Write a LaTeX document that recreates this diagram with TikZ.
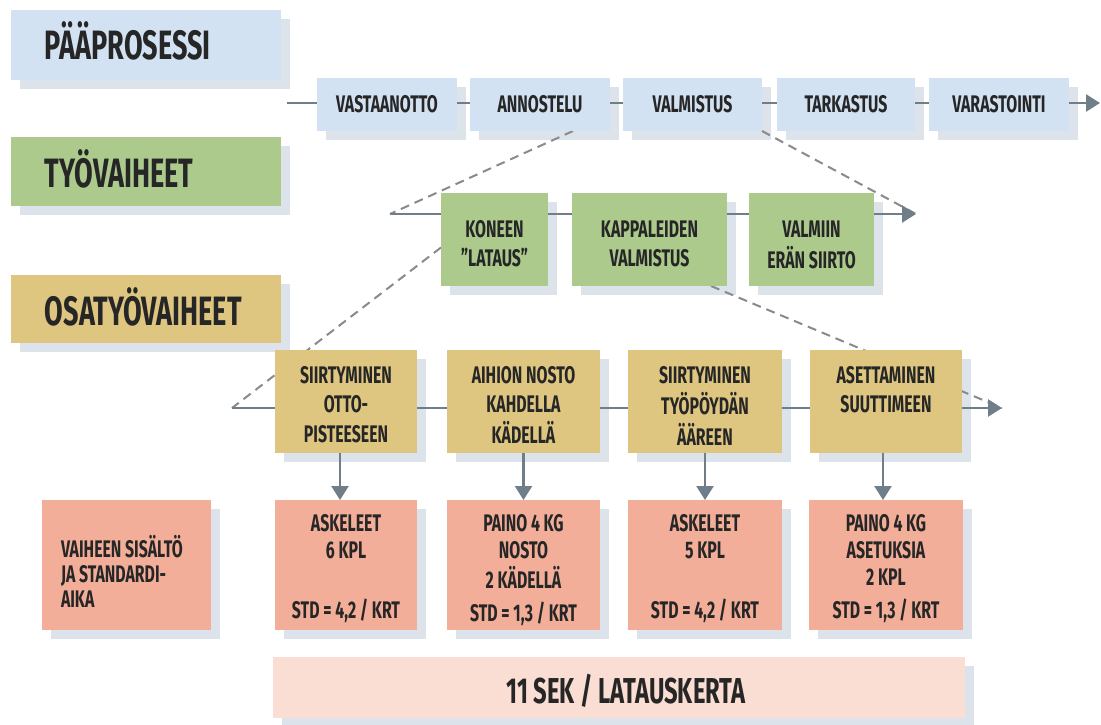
\documentclass[tikz,border=0pt]{standalone}
\usepackage{fontspec}
\setmainfont{Fira Sans}[FakeStretch=0.66]
\usetikzlibrary{arrows.meta,fit,calc}
\definecolor{cblue}{HTML}{D3E2F2}
\definecolor{cgreen}{HTML}{ABCA8C}
\definecolor{ctan}{HTML}{DEC680}
\definecolor{cpink}{HTML}{F2AE98}
\definecolor{clpink}{HTML}{FADDD3}
\definecolor{cshadow}{HTML}{DDE3EA}
\definecolor{cline}{HTML}{6F7E89}
\definecolor{cdash}{HTML}{8A8A8A}
\definecolor{ctext}{HTML}{262626}
\newcommand\ml[1]{\begin{tabular}[t]{@{}c@{}}#1\end{tabular}}
\newcommand\mll[1]{\begin{tabular}[t]{@{}l@{}}#1\end{tabular}}
\pgfdeclarelayer{shadowlayer}
\pgfdeclarelayer{linelayer}
\pgfsetlayers{shadowlayer,linelayer,main}
\begin{document}
\begin{tikzpicture}[x=1pt,y=-1pt,
  box/.style={inner sep=0pt, outer sep=0pt, draw=none},
  bluebox/.style={box, fill=cblue},
  greenbox/.style={box, fill=cgreen},
  tanbox/.style={box, fill=ctan},
  pinkbox/.style={box, fill=cpink},
  barbox/.style={box, fill=clpink},
  txt/.style={inner sep=0pt, outer sep=0pt, text=ctext},
  headtxt/.style={txt, anchor=base west, font=\fontsize{41}{45}\selectfont\bfseries},
  rowtxt/.style={txt, anchor=base, font=\fontsize{24}{29.5}\selectfont\bfseries},
  pinktxt/.style={txt, anchor=base, font=\fontsize{24}{27}\selectfont\bfseries},
  bartxt/.style={txt, anchor=base, font=\fontsize{36}{40}\selectfont\bfseries},
  flow/.style={draw=cline, line width=2.5pt},
  flowarrow/.style={flow, -{Triangle[width=17pt,length=14pt]}},
  zoomline/.style={draw=cdash, line width=2pt, dash pattern=on 9pt off 6pt},
  shadowbox/.style={fill=cshadow}
]
\useasboundingbox (0,0) rectangle (1101,725);

% header boxes
\node[bluebox, fit={(11,10) (281,80)}] (h1) {};
\node[greenbox, fit={(11,137) (281,206)}] (h2) {};
\node[tanbox, fit={(11,275) (281,343)}] (h3) {};
\node[headtxt] (h1t) at (45,60) {PÄÄPROSESSI};
\node[headtxt] (h2t) at (45,187) {TYÖVAIHEET};
\node[headtxt] (h3t) at (45,325) {OSATYÖVAIHEET};

% main process row
\node[bluebox, fit={(317,78) (457,131)}] (v1) {};
\node[bluebox, fit={(470,78) (610,131)}] (v2) {};
\node[bluebox, fit={(623,78) (762,131)}] (v3) {};
\node[bluebox, fit={(777,78) (915,131)}] (v4) {};
\node[bluebox, fit={(929,78) (1069,131)}] (v5) {};
\node[rowtxt] (v1t) at (387,113) {VASTAANOTTO};
\node[rowtxt] (v2t) at (540,113) {ANNOSTELU};
\node[rowtxt] (v3t) at (692.5,113) {VALMISTUS};
\node[rowtxt] (v4t) at (846,113) {TARKASTUS};
\node[rowtxt] (v5t) at (999,113) {VARASTOINTI};

% work phases row
\node[greenbox, fit={(441,193) (548,286)}] (k1) {};
\node[greenbox, fit={(572,193) (727,286)}] (k2) {};
\node[greenbox, fit={(749,193) (874,286)}] (k3) {};
\node[rowtxt] (k1t) at (494.5,237) {\ml{KONEEN\\”LATAUS”}};
\node[rowtxt] (k2t) at (649.5,237) {\ml{KAPPALEIDEN\\VALMISTUS}};
\node[rowtxt] (k3t) at (811.5,237) {\ml{VALMIIN\\ERÄN SIIRTO}};

% sub phases row
\node[tanbox, fit={(275,350) (417,453)}] (y1) {};
\node[tanbox, fit={(447,350) (600,453)}] (y2) {};
\node[tanbox, fit={(628,350) (782,453)}] (y3) {};
\node[tanbox, fit={(810,350) (962,453)}] (y4) {};
\node[rowtxt] (y1t) at (346,383) {\ml{SIIRTYMINEN\\OTTO-\\PISTEESEEN}};
\node[rowtxt] (y2t) at (523.5,383) {\ml{AIHION NOSTO\\KAHDELLA\\KÄDELLÄ}};
\node[rowtxt] (y3t) at (705,383) {\ml{SIIRTYMINEN\\TYÖPÖYDÄN\\ÄÄREEN}};
\node[rowtxt] (y4t) at (886,383) {\ml{ASETTAMINEN\\SUUTTIMEEN}};

% content / standard time boxes
\node[pinkbox, fit={(42,500) (211,630)}] (p0) {};
\node[pinkbox, fit={(275,500) (417,630)}] (p1) {};
\node[pinkbox, fit={(447,500) (600,630)}] (p2) {};
\node[pinkbox, fit={(628,500) (782,630)}] (p3) {};
\node[pinkbox, fit={(809,500) (963,630)}] (p4) {};
\node[pinktxt, anchor=base west, font=\fontsize{24}{25}\selectfont\bfseries] (p0t) at (61,557) {\mll{VAIHEEN SISÄLTÖ\\JA STANDARDI-\\AIKA}};
\node[pinktxt] (p1t) at (346,531) {\ml{ASKELEET\\6 KPL\\[33pt]STD = 4,2 / KRT}};
\node[pinktxt] (p2t) at (523.5,531) {\ml{PAINO 4 KG\\NOSTO\\2 KÄDELLÄ\\[6pt]STD = 1,3 / KRT}};
\node[pinktxt] (p3t) at (705,531) {\ml{ASKELEET\\5 KPL\\[33pt]STD = 4,2 / KRT}};
\node[pinktxt] (p4t) at (886,531) {\ml{PAINO 4 KG\\ASETUKSIA\\2 KPL\\[6pt]STD = 1,3 / KRT}};

% total bar
\node[barbox, fit={(273,657) (965,718)}] (bar) {};
\node[bartxt] (bart) at (626,703) {11 SEK / LATAUSKERTA};

% shadows
\begin{pgfonlayer}{shadowlayer}
\foreach \n in {h1,h2,h3,v1,v2,v3,v4,v5,k1,k2,k3,y1,y2,y3,y4,p0,p1,p2,p3,p4,bar}
  \fill[shadowbox] ([shift={(9,9)}]\n.north west) rectangle ([shift={(9,9)}]\n.south east);
\end{pgfonlayer}

% connectors
\coordinate (t0) at (287,103);
\coordinate (t9) at (1100,103);
\coordinate (m0) at (390,214);
\coordinate (m9) at (916,214);
\coordinate (l0) at (232,408);
\coordinate (l9) at (1002,408);
\begin{pgfonlayer}{linelayer}
\draw[zoomline] ([xshift=33pt]v2.south) -- (m0);
\draw[zoomline] (v3.south east) -- (m9);
\draw[zoomline] ([yshift=-8pt]k1.west) -- (l0);
\draw[zoomline] ([xshift=61.5pt]k2.south) -- (l9);
\draw[flowarrow] (t0) -- (t9);
\draw[flowarrow] (m0) -- (m9);
\draw[flowarrow] (l0) -- (l9);
\draw[flowarrow] ([xshift=-6pt]y1.south) -- ([xshift=-6pt]p1.north);
\draw[flowarrow] (y2.south) -- (p2.north);
\draw[flowarrow] (y3.south) -- (p3.north);
\draw[flowarrow] ([xshift=-3pt]y4.south) -- ([xshift=-3pt]p4.north);
\end{pgfonlayer}
\end{tikzpicture}
\end{document}
